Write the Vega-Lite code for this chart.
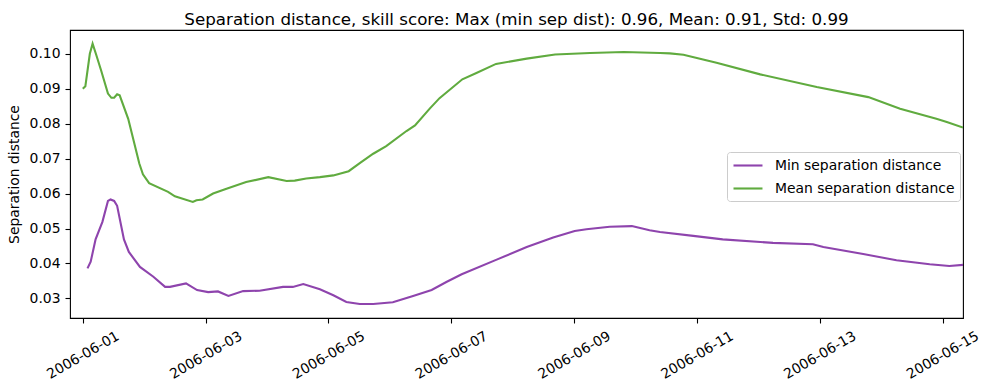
{
  "$schema": "https://vega.github.io/schema/vega-lite/v6.json",
  "width": 893,
  "height": 288,
  "autosize": {"type": "none"},
  "padding": {"left": 70, "top": 30, "right": 26, "bottom": 72},
  "background": "white",
  "config": {
    "view": {"stroke": "black", "strokeWidth": 1.1},
    "font": "DejaVu Sans",
    "axis": {
      "labelFont": "DejaVu Sans",
      "labelFontSize": 13.9,
      "labelColor": "black",
      "tickColor": "black",
      "tickSize": 5,
      "tickWidth": 1.1,
      "domain": false,
      "grid": false,
      "titleFont": "DejaVu Sans",
      "titleFontSize": 13.9,
      "titleFontWeight": "normal",
      "titleColor": "black"
    },
    "legend": {
      "labelFont": "DejaVu Sans",
      "labelFontSize": 13.9,
      "labelColor": "black"
    }
  },
  "title": {
    "text": "Separation distance, skill score: Max (min sep dist): 0.96, Mean: 0.91, Std: 0.99",
    "font": "DejaVu Sans",
    "fontSize": 16.7,
    "fontWeight": "normal",
    "color": "black",
    "anchor": "middle",
    "frame": "group",
    "baseline": "bottom",
    "offset": -16
  },
  "data": {
    "values": [
      {"t": "2006-06-01T00:00:00Z", "v": 0.0900, "series": "Mean separation distance"},
      {"t": "2006-06-01T01:00:00Z", "v": 0.0907, "series": "Mean separation distance"},
      {"t": "2006-06-01T02:45:00Z", "v": 0.1000, "series": "Mean separation distance"},
      {"t": "2006-06-01T03:50:00Z", "v": 0.1029, "series": "Mean separation distance"},
      {"t": "2006-06-01T05:20:00Z", "v": 0.0995, "series": "Mean separation distance"},
      {"t": "2006-06-01T07:10:00Z", "v": 0.0952, "series": "Mean separation distance"},
      {"t": "2006-06-01T09:50:00Z", "v": 0.0886, "series": "Mean separation distance"},
      {"t": "2006-06-01T11:10:00Z", "v": 0.0874, "series": "Mean separation distance"},
      {"t": "2006-06-01T12:15:00Z", "v": 0.0874, "series": "Mean separation distance"},
      {"t": "2006-06-01T13:25:00Z", "v": 0.0884, "series": "Mean separation distance"},
      {"t": "2006-06-01T14:25:00Z", "v": 0.0881, "series": "Mean separation distance"},
      {"t": "2006-06-01T17:45:00Z", "v": 0.0814, "series": "Mean separation distance"},
      {"t": "2006-06-01T22:05:00Z", "v": 0.0686, "series": "Mean separation distance"},
      {"t": "2006-06-01T23:30:00Z", "v": 0.0655, "series": "Mean separation distance"},
      {"t": "2006-06-02T01:55:00Z", "v": 0.0630, "series": "Mean separation distance"},
      {"t": "2006-06-02T09:20:00Z", "v": 0.0605, "series": "Mean separation distance"},
      {"t": "2006-06-02T12:00:00Z", "v": 0.0592, "series": "Mean separation distance"},
      {"t": "2006-06-02T19:00:00Z", "v": 0.0576, "series": "Mean separation distance"},
      {"t": "2006-06-02T20:25:00Z", "v": 0.0581, "series": "Mean separation distance"},
      {"t": "2006-06-02T22:50:00Z", "v": 0.0583, "series": "Mean separation distance"},
      {"t": "2006-06-03T02:55:00Z", "v": 0.0600, "series": "Mean separation distance"},
      {"t": "2006-06-03T08:10:00Z", "v": 0.0614, "series": "Mean separation distance"},
      {"t": "2006-06-03T15:50:00Z", "v": 0.0633, "series": "Mean separation distance"},
      {"t": "2006-06-04T00:30:00Z", "v": 0.0647, "series": "Mean separation distance"},
      {"t": "2006-06-04T07:40:00Z", "v": 0.0636, "series": "Mean separation distance"},
      {"t": "2006-06-04T10:50:00Z", "v": 0.0637, "series": "Mean separation distance"},
      {"t": "2006-06-04T15:20:00Z", "v": 0.0643, "series": "Mean separation distance"},
      {"t": "2006-06-04T20:40:00Z", "v": 0.0647, "series": "Mean separation distance"},
      {"t": "2006-06-05T01:55:00Z", "v": 0.0652, "series": "Mean separation distance"},
      {"t": "2006-06-05T07:55:00Z", "v": 0.0664, "series": "Mean separation distance"},
      {"t": "2006-06-05T12:15:00Z", "v": 0.0687, "series": "Mean separation distance"},
      {"t": "2006-06-05T17:30:00Z", "v": 0.0714, "series": "Mean separation distance"},
      {"t": "2006-06-05T22:35:00Z", "v": 0.0736, "series": "Mean separation distance"},
      {"t": "2006-06-06T06:30:00Z", "v": 0.0779, "series": "Mean separation distance"},
      {"t": "2006-06-06T09:50:00Z", "v": 0.0795, "series": "Mean separation distance"},
      {"t": "2006-06-06T15:35:00Z", "v": 0.0843, "series": "Mean separation distance"},
      {"t": "2006-06-06T19:25:00Z", "v": 0.0873, "series": "Mean separation distance"},
      {"t": "2006-06-07T04:20:00Z", "v": 0.0927, "series": "Mean separation distance"},
      {"t": "2006-06-07T09:50:00Z", "v": 0.0945, "series": "Mean separation distance"},
      {"t": "2006-06-07T17:30:00Z", "v": 0.0971, "series": "Mean separation distance"},
      {"t": "2006-06-08T05:30:00Z", "v": 0.0986, "series": "Mean separation distance"},
      {"t": "2006-06-08T16:35:00Z", "v": 0.0998, "series": "Mean separation distance"},
      {"t": "2006-06-09T06:15:00Z", "v": 0.1002, "series": "Mean separation distance"},
      {"t": "2006-06-09T19:25:00Z", "v": 0.1005, "series": "Mean separation distance"},
      {"t": "2006-06-10T09:35:00Z", "v": 0.1002, "series": "Mean separation distance"},
      {"t": "2006-06-10T13:25:00Z", "v": 0.1001, "series": "Mean separation distance"},
      {"t": "2006-06-10T18:45:00Z", "v": 0.0997, "series": "Mean separation distance"},
      {"t": "2006-06-11T07:40:00Z", "v": 0.0974, "series": "Mean separation distance"},
      {"t": "2006-06-12T00:45:00Z", "v": 0.0941, "series": "Mean separation distance"},
      {"t": "2006-06-12T22:50:00Z", "v": 0.0905, "series": "Mean separation distance"},
      {"t": "2006-06-13T19:00:00Z", "v": 0.0876, "series": "Mean separation distance"},
      {"t": "2006-06-14T07:25:00Z", "v": 0.0843, "series": "Mean separation distance"},
      {"t": "2006-06-14T21:35:00Z", "v": 0.0814, "series": "Mean separation distance"},
      {"t": "2006-06-15T01:40:00Z", "v": 0.0805, "series": "Mean separation distance"},
      {"t": "2006-06-15T08:00:00Z", "v": 0.0789, "series": "Mean separation distance"},

      {"t": "2006-06-01T01:50:00Z", "v": 0.0386, "series": "Min separation distance"},
      {"t": "2006-06-01T03:05:00Z", "v": 0.0405, "series": "Min separation distance"},
      {"t": "2006-06-01T05:00:00Z", "v": 0.0469, "series": "Min separation distance"},
      {"t": "2006-06-01T07:40:00Z", "v": 0.0519, "series": "Min separation distance"},
      {"t": "2006-06-01T09:50:00Z", "v": 0.0579, "series": "Min separation distance"},
      {"t": "2006-06-01T10:50:00Z", "v": 0.0583, "series": "Min separation distance"},
      {"t": "2006-06-01T12:15:00Z", "v": 0.0579, "series": "Min separation distance"},
      {"t": "2006-06-01T13:25:00Z", "v": 0.0565, "series": "Min separation distance"},
      {"t": "2006-06-01T16:05:00Z", "v": 0.0469, "series": "Min separation distance"},
      {"t": "2006-06-01T18:00:00Z", "v": 0.0433, "series": "Min separation distance"},
      {"t": "2006-06-01T22:20:00Z", "v": 0.0390, "series": "Min separation distance"},
      {"t": "2006-06-02T03:35:00Z", "v": 0.0362, "series": "Min separation distance"},
      {"t": "2006-06-02T08:10:00Z", "v": 0.0333, "series": "Min separation distance"},
      {"t": "2006-06-02T10:05:00Z", "v": 0.0333, "series": "Min separation distance"},
      {"t": "2006-06-02T16:20:00Z", "v": 0.0343, "series": "Min separation distance"},
      {"t": "2006-06-02T20:40:00Z", "v": 0.0324, "series": "Min separation distance"},
      {"t": "2006-06-03T01:00:00Z", "v": 0.0318, "series": "Min separation distance"},
      {"t": "2006-06-03T04:50:00Z", "v": 0.0320, "series": "Min separation distance"},
      {"t": "2006-06-03T08:55:00Z", "v": 0.0307, "series": "Min separation distance"},
      {"t": "2006-06-03T14:40:00Z", "v": 0.0321, "series": "Min separation distance"},
      {"t": "2006-06-03T21:05:00Z", "v": 0.0322, "series": "Min separation distance"},
      {"t": "2006-06-04T06:15:00Z", "v": 0.0333, "series": "Min separation distance"},
      {"t": "2006-06-04T10:05:00Z", "v": 0.0333, "series": "Min separation distance"},
      {"t": "2006-06-04T14:10:00Z", "v": 0.0341, "series": "Min separation distance"},
      {"t": "2006-06-04T20:40:00Z", "v": 0.0326, "series": "Min separation distance"},
      {"t": "2006-06-05T01:55:00Z", "v": 0.0309, "series": "Min separation distance"},
      {"t": "2006-06-05T07:00:00Z", "v": 0.0290, "series": "Min separation distance"},
      {"t": "2006-06-05T12:15:00Z", "v": 0.0284, "series": "Min separation distance"},
      {"t": "2006-06-05T17:30:00Z", "v": 0.0284, "series": "Min separation distance"},
      {"t": "2006-06-06T01:10:00Z", "v": 0.0289, "series": "Min separation distance"},
      {"t": "2006-06-06T09:05:00Z", "v": 0.0307, "series": "Min separation distance"},
      {"t": "2006-06-06T16:20:00Z", "v": 0.0324, "series": "Min separation distance"},
      {"t": "2006-06-06T22:05:00Z", "v": 0.0347, "series": "Min separation distance"},
      {"t": "2006-06-07T04:05:00Z", "v": 0.0369, "series": "Min separation distance"},
      {"t": "2006-06-07T17:45:00Z", "v": 0.0411, "series": "Min separation distance"},
      {"t": "2006-06-08T05:30:00Z", "v": 0.0447, "series": "Min separation distance"},
      {"t": "2006-06-08T15:50:00Z", "v": 0.0474, "series": "Min separation distance"},
      {"t": "2006-06-09T00:15:00Z", "v": 0.0493, "series": "Min separation distance"},
      {"t": "2006-06-09T04:50:00Z", "v": 0.0498, "series": "Min separation distance"},
      {"t": "2006-06-09T13:55:00Z", "v": 0.0505, "series": "Min separation distance"},
      {"t": "2006-06-09T22:35:00Z", "v": 0.0507, "series": "Min separation distance"},
      {"t": "2006-06-10T05:30:00Z", "v": 0.0495, "series": "Min separation distance"},
      {"t": "2006-06-10T09:35:00Z", "v": 0.0490, "series": "Min separation distance"},
      {"t": "2006-06-10T22:35:00Z", "v": 0.0479, "series": "Min separation distance"},
      {"t": "2006-06-11T10:05:00Z", "v": 0.0469, "series": "Min separation distance"},
      {"t": "2006-06-12T05:45:00Z", "v": 0.0459, "series": "Min separation distance"},
      {"t": "2006-06-12T21:20:00Z", "v": 0.0455, "series": "Min separation distance"},
      {"t": "2006-06-13T01:25:00Z", "v": 0.0447, "series": "Min separation distance"},
      {"t": "2006-06-13T17:00:00Z", "v": 0.0427, "series": "Min separation distance"},
      {"t": "2006-06-14T06:00:00Z", "v": 0.0409, "series": "Min separation distance"},
      {"t": "2006-06-14T19:00:00Z", "v": 0.0398, "series": "Min separation distance"},
      {"t": "2006-06-15T02:40:00Z", "v": 0.0393, "series": "Min separation distance"},
      {"t": "2006-06-15T08:00:00Z", "v": 0.0396, "series": "Min separation distance"}
    ]
  },
  "mark": {"type": "line", "strokeWidth": 2.1, "clip": true},
  "encoding": {
    "x": {
      "field": "t",
      "type": "temporal",
      "scale": {
        "type": "utc",
        "domain": [
          {"year": 2006, "month": 5, "date": 31, "hours": 19, "utc": true},
          {"year": 2006, "month": 6, "date": 15, "hours": 8, "utc": true}
        ]
      },
      "axis": {
        "title": null,
        "values": [
          {"year": 2006, "month": 6, "date": 1, "utc": true},
          {"year": 2006, "month": 6, "date": 3, "utc": true},
          {"year": 2006, "month": 6, "date": 5, "utc": true},
          {"year": 2006, "month": 6, "date": 7, "utc": true},
          {"year": 2006, "month": 6, "date": 9, "utc": true},
          {"year": 2006, "month": 6, "date": 11, "utc": true},
          {"year": 2006, "month": 6, "date": 13, "utc": true},
          {"year": 2006, "month": 6, "date": 15, "utc": true}
        ],
        "format": "%Y-%m-%d",
        "labelAngle": -30,
        "labelAlign": "center",
        "labelBaseline": "middle",
        "labelPadding": 32,
        "labelOverlap": false,
        "labelFlush": false,
        "labelBound": false
      }
    },
    "y": {
      "field": "v",
      "type": "quantitative",
      "scale": {"domain": [0.0244, 0.1068], "nice": false, "zero": false},
      "axis": {
        "title": "Separation distance",
        "values": [0.03, 0.04, 0.05, 0.06, 0.07, 0.08, 0.09, 0.10],
        "format": ".2f",
        "labelPadding": 5,
        "titleX": -49,
        "titleY": 144,
        "titleAngle": -90,
        "titleAlign": "center",
        "titleBaseline": "bottom"
      }
    },
    "color": {
      "field": "series",
      "type": "nominal",
      "scale": {
        "domain": ["Min separation distance", "Mean separation distance"],
        "range": ["#8e44ad", "#60ab3f"]
      },
      "legend": {
        "title": null,
        "orient": "none",
        "legendX": 657,
        "legendY": 122,
        "padding": 5,
        "rowPadding": 7,
        "labelOffset": 26,
        "labelLimit": 400,
        "symbolType": "M-1,0H3.14",
        "symbolSize": 196,
        "symbolStrokeWidth": 2.1,
        "strokeColor": "#cccccc",
        "fillColor": "rgba(255,255,255,0.8)",
        "cornerRadius": 3
      }
    }
  }
}
